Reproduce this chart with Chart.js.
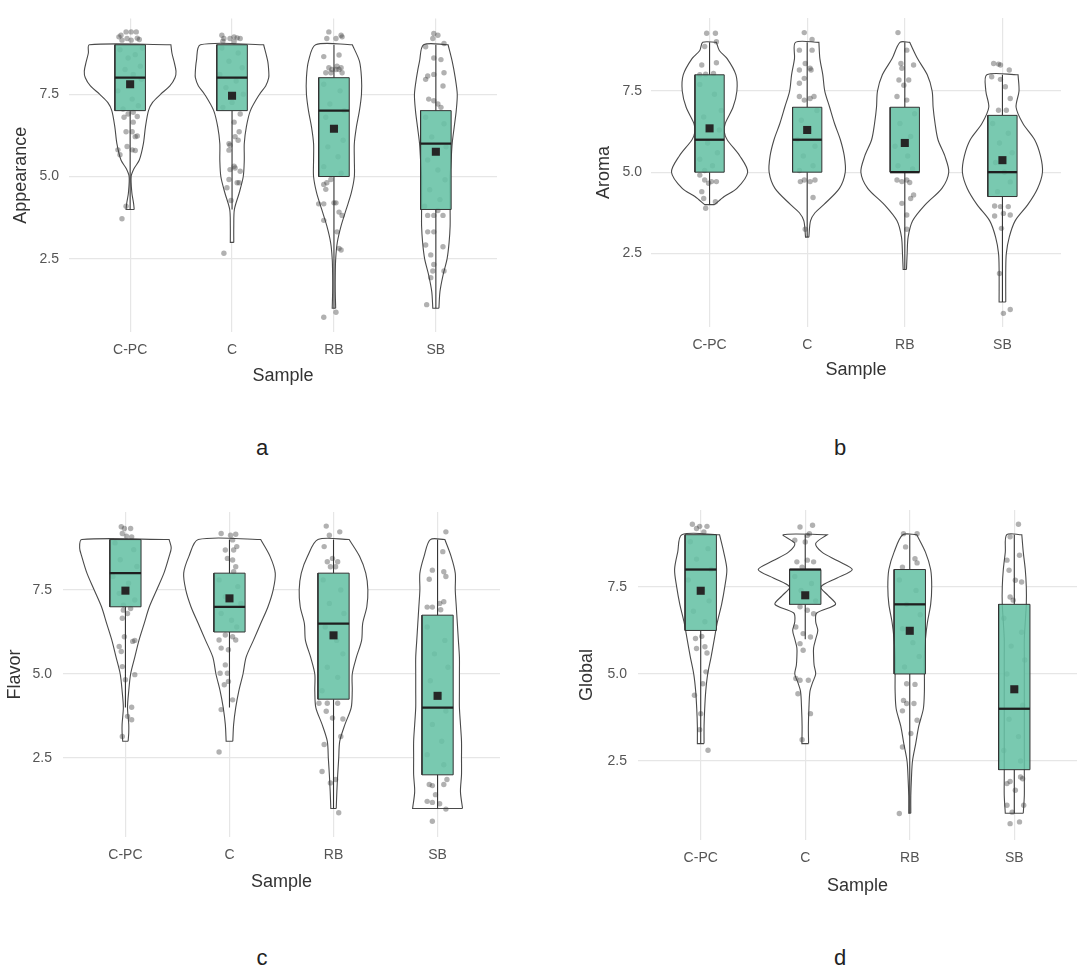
<!DOCTYPE html>
<html>
<head>
<meta charset="utf-8">
<script src="https://cdn.jsdelivr.net/npm/chart.js@4.4.1/dist/chart.umd.min.js"></script>
<style>
  body { margin: 0; background: #fff; width: 1086px; height: 967px; position: relative; overflow: hidden; font-family: "Liberation Sans", Arial, sans-serif; }
  .panel { position: absolute; }
  .tag { position: absolute; font-size: 22px; color: #222; transform: translate(-50%, -50%); }
</style>
</head>
<body>
<script>
// ---- data ----
const categories = ["C-PC", "C", "RB", "SB"];
const panelTitles = ["Appearance", "Aroma", "Flavor", "Global"];
const panelTags = ["a", "b", "c", "d"];
const yTickValues = [2.5, 5.0, 7.5];

// box statistics, one row per panel, one value per sample
const boxQ1 = [[7, 7, 5, 4], [5, 5, 5, 4.25], [7, 6.25, 4.25, 2], [6.25, 7, 5, 2.25]];
const boxMedian = [[8, 8, 7, 6], [6, 6, 5, 5], [8, 7, 6.5, 4], [8, 8, 7, 4]];
const boxQ3 = [[9, 9, 8, 7], [8, 7, 7, 6.75], [9, 8, 8, 6.75], [9, 8, 8, 7]];
const whiskerLow = [[4, 4, 1, 1], [4, 3, 2, 1], [4, 4, 1, 1], [3, 6, 1, 1]];
const whiskerHigh = [[9, 9, 9, 9], [9, 9, 9, 8], [9, 9, 9, 9], [9, 9, 9, 9]];
const meanValues = [[7.8, 7.45, 6.45, 5.75], [6.35, 6.3, 5.9, 5.37], [7.48, 7.25, 6.15, 4.35], [7.39, 7.26, 6.24, 4.56]];

// violin half-widths [score, half width in category units]
const appearanceViolins = [
  [[4,0.04],[4.2,0.033],[4.5,0.017],[5,0.01],[5.25,0.04],[5.5,0.09],[6,0.13],[6.5,0.15],[7,0.18],[7.25,0.22],[7.5,0.30],[7.75,0.39],[8,0.44],[8.2,0.45],[8.5,0.43],[8.75,0.41],[9,0.40]],
  [[3,0.017],[3.5,0.017],[4,0.023],[4.5,0.07],[5,0.11],[5.5,0.12],[6,0.12],[6.5,0.14],[7,0.18],[7.5,0.27],[7.75,0.33],[8,0.36],[8.2,0.36],[8.5,0.35],[9,0.31]],
  [[1,0.017],[1.5,0.013],[2,0.013],[2.5,0.017],[3,0.033],[3.5,0.07],[4,0.12],[4.5,0.17],[5,0.20],[5.5,0.20],[6,0.20],[6.5,0.22],[7,0.25],[7.5,0.27],[8,0.27],[8.5,0.25],[9,0.18]],
  [[1,0.03],[1.5,0.04],[2,0.07],[2.5,0.11],[3,0.13],[3.5,0.14],[4,0.14],[4.5,0.14],[5,0.14],[5.5,0.15],[6,0.16],[6.5,0.18],[7,0.20],[7.5,0.21],[8,0.19],[8.5,0.16],[9,0.12]]
];
const aromaViolins = [
  [[4,0.05],[4.25,0.15],[4.5,0.28],[5,0.39],[5.5,0.31],[6,0.18],[6.25,0.15],[6.5,0.16],[7,0.24],[7.5,0.28],[8,0.27],[8.5,0.18],[8.75,0.10],[9,0.07]],
  [[3,0.017],[3.5,0.034],[3.75,0.08],[4,0.17],[4.5,0.33],[5,0.39],[5.5,0.38],[6,0.34],[6.5,0.28],[7,0.23],[7.5,0.18],[8,0.16],[8.5,0.13],[9,0.12]],
  [[2,0.017],[2.5,0.024],[3,0.034],[3.5,0.08],[4,0.21],[4.5,0.38],[5,0.45],[5.5,0.41],[6,0.34],[6.5,0.31],[7,0.29],[7.5,0.28],[8,0.23],[8.5,0.13],[9,0.05]],
  [[1,0.034],[2,0.034],[2.5,0.04],[3,0.07],[3.5,0.13],[4,0.26],[4.5,0.36],[5,0.41],[5.5,0.39],[6,0.33],[6.5,0.21],[7,0.14],[7.5,0.17],[8,0.16]]
];
const flavorViolins = [
  [[3,0.026],[3.25,0.032],[3.5,0.032],[4,0.02],[4.5,0.032],[5,0.05],[5.5,0.09],[6,0.13],[6.5,0.18],[7,0.23],[7.5,0.30],[8,0.37],[8.5,0.42],[8.75,0.44],[9,0.42]],
  [[3,0.032],[3.5,0.04],[4,0.06],[4.5,0.09],[5,0.13],[5.5,0.16],[6,0.23],[6.5,0.30],[7,0.37],[7.5,0.42],[8,0.44],[8.5,0.39],[9,0.30]],
  [[1,0.026],[1.5,0.032],[2,0.04],[2.5,0.05],[3,0.06],[3.5,0.11],[4,0.17],[4.5,0.18],[5,0.18],[5.5,0.22],[6,0.27],[6.5,0.28],[7,0.32],[7.5,0.33],[8,0.31],[8.5,0.25],[9,0.15]],
  [[1,0.24],[1.5,0.22],[2,0.23],[2.5,0.23],[3,0.23],[3.5,0.22],[4,0.21],[4.5,0.21],[5,0.21],[5.5,0.21],[6,0.20],[6.5,0.19],[7,0.18],[7.5,0.17],[8,0.17],[8.5,0.13],[9,0.07]]
];
const globalViolins = [
  [[3,0.032],[3.5,0.032],[4,0.038],[4.5,0.048],[5,0.067],[5.5,0.10],[6,0.13],[6.5,0.16],[7,0.20],[7.5,0.23],[8,0.25],[8.5,0.22],[9,0.18]],
  [[3,0.032],[3.5,0.03],[4,0.035],[4.5,0.045],[4.75,0.07],[5,0.10],[5.25,0.085],[5.5,0.08],[5.75,0.08],[6,0.10],[6.25,0.12],[6.5,0.10],[6.75,0.11],[7,0.29],[7.25,0.22],[7.5,0.15],[7.75,0.30],[8,0.45],[8.25,0.31],[8.5,0.16],[8.75,0.10],[9,0.21]],
  [[1,0.01],[1.5,0.01],[2,0.016],[2.5,0.026],[3,0.057],[3.5,0.086],[4,0.13],[4.5,0.14],[5,0.14],[5.5,0.14],[6,0.15],[6.5,0.17],[7,0.20],[7.5,0.21],[8,0.20],[8.5,0.15],[9,0.067]],
  [[1,0.086],[1.5,0.096],[2,0.096],[2.5,0.096],[3,0.096],[3.5,0.096],[4,0.096],[4.5,0.096],[5,0.096],[5.5,0.096],[6,0.096],[6.5,0.105],[7,0.115],[7.5,0.115],[8,0.105],[8.5,0.086],[9,0.072]]
];

// jittered ratings [horizontal offset in category units, score]
const appearancePoints = [
  [[-0.11,9.24],[-0.09,9.29],[-0.04,9.39],[0.01,9.39],[0.06,9.39],[0.07,9.2],[0.09,9.16],[-0.08,9.14],[-0.03,9.19],[0.01,9.14],
   [-0.1,8.85],[0.05,8.7],[0.1,8.35],[-0.05,8.25],[0.11,7.95],[-0.12,7.6],[0.02,7.35],[0.08,7.15],[-0.07,7.05],[0.03,8.1],[-0.02,8.6],[0.12,8.9],
   [-0.06,6.8],[-0.02,6.9],[0.03,6.95],[0.07,6.82],[0.03,6.65],[-0.04,6.36],[0.02,6.36],[0.05,6.21],[0.07,6.23],[-0.12,5.81],[-0.03,5.91],[0.02,5.81],[0.05,5.79],[-0.1,5.66],[-0.04,4.1],[-0.08,3.72]],
  [[-0.1,9.29],[-0.08,9.19],[-0.02,9.19],[0.02,9.24],[0.05,9.21],[0.08,9.19],[-0.09,9.11],[0.02,9.09],
   [-0.1,8.9],[0.06,8.75],[-0.03,8.5],[0.1,8.3],[-0.12,8.1],[0.04,7.9],[-0.06,7.7],[0.11,7.5],[0.0,7.25],[-0.09,7.1],
   [0.08,6.9],[0.02,6.65],[0.07,6.36],[0.03,6.21],[0.06,6.1],[-0.03,6.0],[-0.02,5.95],[-0.03,5.8],[0.02,5.31],[-0.02,5.21],[0.03,5.26],[0.08,5.16],[-0.03,4.91],[0.07,4.81],[0.05,4.81],[-0.05,4.66],[-0.01,4.27],[-0.08,2.67]],
  [[-0.05,9.39],[0.02,9.19],[0.07,9.29],[0.08,9.24],[-0.07,9.19],
   [-0.1,8.64],[0.05,8.69],[-0.05,8.3],[-0.02,8.25],[0.02,8.25],[0.05,8.25],[0.07,8.3],[0.08,8.15],[-0.08,8.15],[0.03,8.35],[-0.03,8.15],
   [-0.1,7.8],[0.06,7.6],[-0.04,7.2],[0.1,7.0],[-0.08,6.8],[0.02,6.5],[0.09,6.1],[-0.06,5.9],[0.04,5.6],[-0.1,5.3],[0.07,5.1],
   [-0.1,4.76],[-0.07,4.81],[-0.08,4.61],[-0.03,4.91],[-0.15,4.17],[-0.1,4.17],[0.0,4.2],[0.02,4.2],[0.05,3.92],[0.08,3.82],[-0.1,3.67],[0.03,3.32],[0.05,2.82],[0.07,2.77],[-0.1,0.73],[0.02,0.88]],
  [[-0.02,9.34],[0.02,9.29],[-0.03,9.19],[0.08,9.04],[-0.1,8.94],
   [-0.02,8.6],[0.05,8.55],[-0.08,8.05],[-0.02,8.1],[0.08,8.15],[-0.1,7.95],[0.07,7.75],[-0.07,7.35],[-0.02,7.3],[0.02,7.2],[0.05,7.1],
   [-0.1,6.8],[0.08,6.6],[-0.04,6.2],[0.1,5.9],[-0.08,5.5],[0.02,5.2],[0.09,4.9],[-0.06,4.6],[0.04,4.3],[-0.11,4.1],
   [-0.08,3.82],[-0.02,3.82],[0.07,3.82],[0.02,3.97],[-0.08,3.32],[-0.02,3.32],[-0.1,2.92],[-0.05,2.62],[0.07,2.87],[-0.02,2.33],[-0.03,2.13],[-0.05,1.93],[0.08,2.13],[-0.09,1.11]]
];
const aromaPoints = [
  [[-0.03,9.28],[0.06,9.28],[-0.05,8.87],[0.07,9.02],[-0.08,8.3],[0.07,8.37],[-0.1,8.0],[-0.04,8.02],[0.04,8.04],
   [-0.1,7.7],[0.05,7.4],[0.12,6.9],[-0.06,6.7],[0.1,6.3],[-0.02,5.9],[0.08,5.6],[-0.1,5.4],[0.03,5.2],[-0.05,5.05],
   [-0.1,4.91],[-0.05,4.76],[-0.01,4.66],[0.02,4.71],[0.07,4.71],[-0.08,4.4],[-0.06,4.19],[0.06,4.09],[-0.04,3.89]],
  [[-0.03,9.3],[0.05,9.09],[-0.08,8.76],[0.05,8.76],[-0.02,8.35],[0.03,8.2],[0.04,8.15],[-0.08,8.15],[-0.03,7.89],[-0.08,7.74],[0.07,7.33],[0.03,7.27],[-0.08,7.33],[-0.03,7.22],
   [0.1,6.9],[-0.06,6.6],[0.02,6.3],[-0.1,6.0],[0.08,5.8],[-0.04,5.5],[0.06,5.2],[-0.08,5.05],
   [-0.07,4.71],[-0.03,4.76],[0.03,4.71],[0.08,4.76],[0.06,4.22],[-0.02,3.24]],
  [[-0.07,9.3],[0.02,8.76],[0.09,8.3],[-0.04,8.35],[-0.03,8.2],[-0.06,7.84],[0.04,7.84],[-0.01,7.68],[-0.08,7.33],[0.02,7.22],
   [0.1,6.8],[-0.05,6.5],[0.06,6.1],[-0.1,5.8],[0.03,5.5],[-0.07,5.2],[0.08,5.1],
   [-0.08,4.76],[-0.03,4.71],[0.02,4.76],[0.05,4.68],[0.09,4.3],[0.06,4.19],[-0.03,4.04],[0.02,3.68],[0.02,3.24]],
  [[-0.09,8.35],[-0.04,8.33],[-0.02,8.3],[0.07,8.15],[-0.11,7.94],[-0.02,7.86],[0.03,7.63],[0.08,7.27],[-0.04,6.91],[0.04,6.91],
   [-0.1,6.5],[0.06,6.2],[-0.03,5.9],[0.1,5.6],[-0.07,5.3],[0.02,5.0],[0.08,4.7],[-0.05,4.4],
   [-0.08,3.96],[-0.02,3.94],[0.06,3.94],[0.01,3.73],[-0.08,3.65],[0.08,3.68],[-0.01,3.27],[-0.03,1.88],[0.01,0.65],[0.08,0.77]]
];
const flavorPoints = [
  [[-0.04,9.38],[-0.01,9.33],[0.05,9.33],[-0.03,9.18],[0.06,9.08],[0.01,9.1],
   [-0.1,8.9],[0.08,8.7],[-0.05,8.4],[0.11,8.2],[-0.12,7.9],[0.03,7.7],[-0.06,7.4],[0.09,7.2],[-0.02,7.05],
   [-0.02,6.9],[0.02,6.8],[0.05,6.95],[-0.03,6.66],[-0.01,6.11],[0.07,5.97],[0.09,6.0],[-0.06,5.82],[-0.04,5.67],[-0.03,5.22],[0.09,4.98],[0.0,4.83],[0.06,4.01],[0.02,3.74],[0.06,3.64],[-0.03,3.14]],
  [[-0.08,9.18],[0.01,9.13],[0.06,9.16],[0.03,8.99],[-0.04,8.69],[0.04,8.69],[0.07,8.79],[-0.02,8.44],[0.03,8.39],[0.06,8.19],[0.04,8.04],
   [-0.1,7.8],[0.08,7.6],[-0.04,7.3],[0.11,7.1],[-0.08,6.8],[0.02,6.6],[0.07,6.4],
   [-0.1,6.01],[-0.04,6.16],[0.03,6.11],[0.06,6.01],[-0.08,5.77],[-0.01,5.72],[-0.04,5.27],[-0.09,5.02],[-0.02,5.02],[-0.05,4.68],[-0.01,4.78],[0.03,4.23],[-0.08,3.94],[-0.1,2.68]],
  [[-0.07,9.4],[-0.04,9.13],[0.06,9.23],[-0.09,8.79],[-0.01,8.44],[-0.06,8.34],[0.04,8.34],[-0.03,8.19],[0.02,8.19],
   [-0.1,7.8],[0.07,7.5],[-0.04,7.1],[0.1,6.8],[-0.08,6.4],[0.03,6.0],[0.09,5.6],[-0.06,5.2],[0.04,4.9],[-0.11,4.5],
   [-0.14,4.13],[-0.06,4.13],[0.04,4.13],[0.09,3.66],[-0.01,3.69],[-0.07,3.89],[0.07,3.14],[-0.09,2.9],[-0.11,2.1],[-0.03,1.76],[0.02,1.86],[0.05,0.87]],
  [[0.08,9.23],[0.05,8.64],[-0.05,8.09],[0.06,8.04],[0.08,7.9],[-0.08,7.82],[0.06,7.15],[0.02,7.1],[-0.1,6.99],[-0.05,6.99],[0.03,6.91],
   [-0.1,6.4],[0.07,6.0],[-0.03,5.6],[0.1,5.2],[-0.07,4.8],[0.02,4.4],[0.08,3.9],[-0.05,3.5],[0.04,3.0],[-0.1,2.6],[0.06,2.3],
   [-0.08,1.71],[-0.05,1.68],[0.06,1.71],[0.09,1.86],[-0.02,1.41],[-0.1,1.21],[-0.05,1.18],[0.02,1.14],[0.08,0.98],[-0.05,0.62]]
];
const globalPoints = [
  [[-0.08,9.3],[-0.01,9.24],[0.06,9.24],[0.03,9.08],[-0.04,9.18],
   [-0.1,8.8],[0.07,8.6],[-0.04,8.3],[0.1,8.0],[-0.12,7.7],[0.02,7.4],[0.08,7.1],[-0.07,6.8],[0.04,6.5],
   [-0.05,6.02],[0.01,6.08],[0.04,5.78],[0.06,5.6],[-0.04,5.73],[0.05,5.06],[0.02,4.72],[-0.06,4.39],[0.0,3.86],[-0.01,3.4],[0.07,2.81]],
  [[-0.05,9.22],[0.07,9.27],[-0.1,8.84],[0.02,8.98],[0.0,8.79],[0.04,9.03],
   [-0.08,8.22],[0.02,8.27],[0.08,8.22],[-0.03,8.07],
   [-0.1,7.8],[0.06,7.6],[-0.04,7.4],[0.1,7.1],
   [-0.05,6.93],[0.02,6.83],[0.08,6.73],[-0.09,6.35],[-0.02,6.16],[0.05,6.06],[-0.05,5.87],[-0.02,5.68],[-0.09,4.87],[-0.05,4.82],[0.03,4.82],[-0.07,4.43],[0.05,3.86],[-0.03,3.11]],
  [[-0.06,9.03],[0.07,9.03],[-0.04,8.65],[0.05,8.31],[0.07,8.19],[-0.07,8.07],
   [-0.1,7.7],[0.06,7.4],[-0.03,7.0],[0.1,6.7],[-0.07,6.3],[0.03,5.9],[0.09,5.5],[-0.05,5.2],
   [-0.03,4.72],[0.05,4.7],[-0.06,4.24],[-0.03,4.15],[0.04,4.15],[-0.07,3.94],[0.07,3.67],[0.01,3.29],[-0.07,2.9],[-0.1,0.99]],
  [[0.04,9.3],[-0.04,8.94],[-0.07,8.27],[0.05,8.41],[-0.05,7.98],[0.01,7.69],[0.07,7.64],[-0.01,7.12],[-0.04,7.21],
   [-0.1,6.6],[0.07,6.2],[-0.03,5.8],[0.1,5.4],[-0.07,5.0],[0.02,4.6],[0.08,4.1],[-0.05,3.7],[0.04,3.2],[-0.1,2.8],[0.06,2.5],
   [-0.04,1.91],[0.06,2.04],[0.08,1.99],[-0.07,1.85],[0.01,1.66],[-0.07,1.23],[0.09,1.23],[-0.02,1.03],[-0.04,0.7],[0.05,0.75]]
];

const panelViolins = [appearanceViolins, aromaViolins, flavorViolins, globalViolins];
const panelPoints = [appearancePoints, aromaPoints, flavorPoints, globalPoints];

// ---- layout (page pixels) ----
const panels = [
  { box: [0, 0, 540, 400], area: [69, 13, 497, 332], yRange: [0.28, 9.8], yTitleX: 21, tickRight: 59, xTickY: 350, xTitleY: 376, tag: [262, 448] },
  { box: [540, 0, 546, 400], area: [651, 18, 1061, 327], yRange: [0.23, 9.75], yTitleX: 604, tickRight: 642, xTickY: 345, xTitleY: 370, tag: [840, 448] },
  { box: [0, 480, 540, 420], area: [63, 512, 500, 837], yRange: [0.15, 9.82], yTitleX: 15, tickRight: 52, xTickY: 855, xTitleY: 882, tag: [262, 958] },
  { box: [540, 480, 546, 420], area: [638, 510, 1077, 840], yRange: [0.23, 9.71], yTitleX: 587, tickRight: 627, xTickY: 858, xTitleY: 886, tag: [840, 958] }
];

const boxHalf = 0.15;
const tickFont = { family: "Liberation Sans", size: 14 };
const titleFont = { family: "Liberation Sans", size: 18 };
const tickHalfLine = 14 * 1.2 / 2;
const titleHalfLine = 18 * 1.2 / 2;
const gridColor = "#e6e6e6";

// closed outline of a violin; corner points doubled so the flat ends stay straight
function violinOutline(center, profile) {
  const right = profile.map(([y, w]) => ({ x: center + w, y }));
  const left = profile.slice().reverse().map(([y, w]) => ({ x: center - w, y }));
  const n = right.length;
  return [right[0], ...right, right[n - 1], ...left, left[n - 1], right[0]];
}

function buildChart(p) {
  const cfg = panels[p];
  const [bx, by, bw, bh] = cfg.box;
  const [L, T, R, B] = cfg.area;

  const wrap = document.createElement("div");
  wrap.className = "panel";
  wrap.style.left = bx + "px";
  wrap.style.top = by + "px";
  const canvas = document.createElement("canvas");
  canvas.width = bw;
  canvas.height = bh;
  wrap.appendChild(canvas);
  document.body.appendChild(wrap);

  const tag = document.createElement("div");
  tag.className = "tag";
  tag.textContent = panelTags[p];
  tag.style.left = cfg.tag[0] + "px";
  tag.style.top = cfg.tag[1] + "px";
  document.body.appendChild(tag);

  const datasets = [];
  categories.forEach((cat, i) => {
    const c = i + 1;
    datasets.push({
      label: "violin " + cat,
      data: violinOutline(c, panelViolins[p][i]),
      showLine: true, fill: "shape", tension: 0.3,
      backgroundColor: "#ffffff", borderColor: "#4a4a4a", borderWidth: 1.1,
      pointRadius: 0, order: 5
    });
    datasets.push({
      label: "whisker " + cat,
      data: [{ x: c, y: whiskerLow[p][i] }, { x: c, y: boxQ1[p][i] }, { x: c, y: null },
             { x: c, y: boxQ3[p][i] }, { x: c, y: whiskerHigh[p][i] }],
      showLine: true, spanGaps: false, borderColor: "#333", borderWidth: 1.1,
      pointRadius: 0, order: 3
    });
    datasets.push({
      label: "box " + cat,
      data: [{ x: c - boxHalf, y: boxQ1[p][i] }, { x: c + boxHalf, y: boxQ1[p][i] },
             { x: c + boxHalf, y: boxQ3[p][i] }, { x: c - boxHalf, y: boxQ3[p][i] },
             { x: c - boxHalf, y: boxQ1[p][i] }],
      showLine: true, fill: "shape", tension: 0,
      backgroundColor: "rgba(102,194,165,0.88)", borderColor: "#333", borderWidth: 1,
      pointRadius: 0, order: 2
    });
    datasets.push({
      label: "median " + cat,
      data: [{ x: c - boxHalf, y: boxMedian[p][i] }, { x: c + boxHalf, y: boxMedian[p][i] }],
      showLine: true, borderColor: "#1f1f1f", borderWidth: 2.3,
      pointRadius: 0, order: 1
    });
  });
  const pts = [];
  panelPoints[p].forEach((group, i) => group.forEach(([dx, y]) => pts.push({ x: i + 1 + dx, y })));
  datasets.push({
    label: "ratings", data: pts, showLine: false,
    pointRadius: 2.7, pointBackgroundColor: "rgba(60,60,60,0.4)", pointBorderWidth: 0, order: 4
  });
  datasets.push({
    label: "mean", data: meanValues[p].map((m, i) => ({ x: i + 1, y: m })), showLine: false,
    pointStyle: "rect", pointRadius: 5.7, pointBackgroundColor: "#262626", pointBorderWidth: 0, order: 0
  });

  new Chart(canvas, {
    type: "scatter",
    data: { datasets },
    options: {
      responsive: false,
      animation: false,
      devicePixelRatio: 1,
      layout: { padding: { left: 0, top: T - by, right: bx + bw - R, bottom: 0 } },
      plugins: { legend: { display: false }, tooltip: { enabled: false } },
      scales: {
        x: {
          type: "linear", min: 0.4, max: 4.6,
          afterBuildTicks: (s) => { s.ticks = categories.map((_, i) => ({ value: i + 1 })); },
          afterFit: (s) => { s.height = by + bh - B; },
          ticks: {
            autoSkip: false, maxRotation: 0, color: "#555", font: tickFont,
            padding: cfg.xTickY - B - tickHalfLine,
            callback: (v) => categories[Math.round(v) - 1]
          },
          grid: { color: gridColor, lineWidth: 1.2, drawTicks: false },
          border: { display: false },
          title: {
            display: true, text: "Sample", color: "#333", font: titleFont,
            padding: { top: 0, bottom: by + bh - cfg.xTitleY - titleHalfLine }
          }
        },
        y: {
          type: "linear", min: cfg.yRange[0], max: cfg.yRange[1],
          afterBuildTicks: (s) => { s.ticks = yTickValues.map((v) => ({ value: v })); },
          afterFit: (s) => { s.width = L - bx; },
          ticks: {
            color: "#555", font: tickFont, padding: L - cfg.tickRight,
            callback: (v) => Number(v).toFixed(1)
          },
          grid: { color: gridColor, lineWidth: 1.2, drawTicks: false },
          border: { display: false },
          title: {
            display: true, text: panelTitles[p], color: "#333", font: titleFont,
            padding: { top: cfg.yTitleX - bx - titleHalfLine, bottom: 0 }
          }
        }
      }
    }
  });
}

panels.forEach((_, p) => buildChart(p));
</script>
</body>
</html>
